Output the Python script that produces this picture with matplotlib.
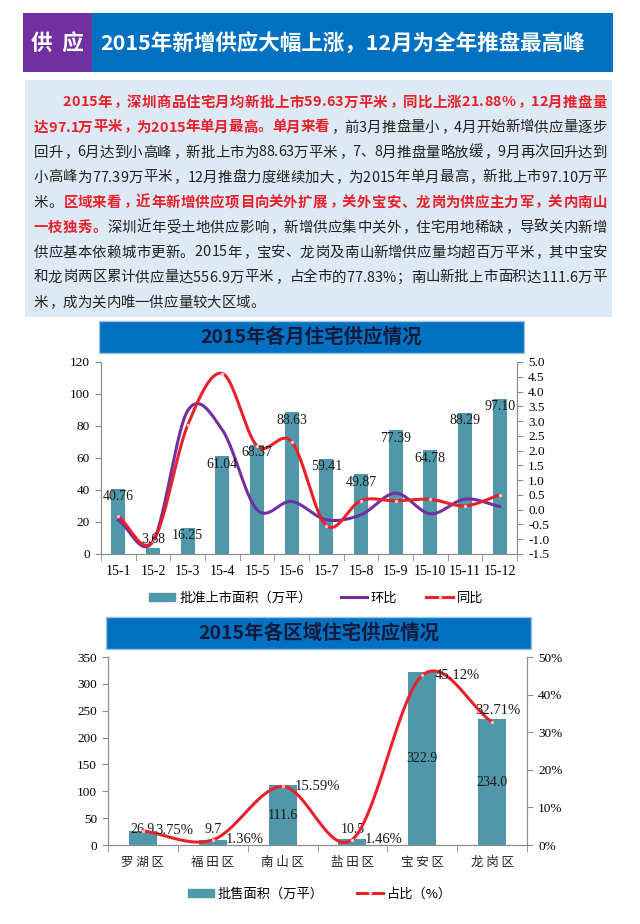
import numpy as np
import matplotlib
matplotlib.use('Agg')
import matplotlib.pyplot as plt
from matplotlib.patches import Rectangle, Patch
from matplotlib.lines import Line2D
from matplotlib import font_manager
from matplotlib.font_manager import FontProperties
from matplotlib.ft2font import FT2Font

plt.rcParams['font.family'] = ['Noto Sans CJK SC', 'DejaVu Sans']
plt.rcParams['axes.unicode_minus'] = False

# chart 1 data
months = ['15-1', '15-2', '15-3', '15-4', '15-5', '15-6',
          '15-7', '15-8', '15-9', '15-10', '15-11', '15-12']
supply = [40.76, 3.68, 16.25, 61.04, 68.37, 88.63, 59.41, 49.87, 77.39, 64.78, 88.29, 97.10]
mom = [-0.36, -1.07, 3.35, 2.70, 0.00, 0.28, -0.34, -0.17, 0.56, -0.14, 0.36, 0.11]
yoy = [-0.23, -1.07, 2.86, 4.61, 2.16, 2.30, -0.54, 0.31, 0.30, 0.35, 0.13, 0.50]

# chart 2 data
districts = ['罗湖区', '福田区', '南山区', '盐田区', '宝安区', '龙岗区']
district_area = [26.9, 9.7, 111.6, 10.5, 322.9, 234.0]
district_share = [3.75, 1.36, 15.59, 1.46, 45.12, 32.71]

RED = '#e8212b'
BAR = '#4f97a9'
SERIF = 'Liberation Serif'

body = [
    [('2015年，深圳商品住宅月均新批上市59.63万平米，同比上涨21.88%，12月推盘量', 'r')],
    [('达97.1万平米，为2015年单月最高。单月来看', 'r'), ('，前3月推盘量小，4月开始新增供应量逐步', 'k')],
    [('回升，6月达到小高峰，新批上市为88.63万平米，7、8月推盘量略放缓，9月再次回升达到', 'k')],
    [('小高峰为77.39万平米，12月推盘力度继续加大，为2015年单月最高，新批上市97.10万平', 'k')],
    [('米。', 'k'), ('区域来看，近年新增供应项目向关外扩展，关外宝安、龙岗为供应主力军，关内南山', 'r')],
    [('一枝独秀。', 'r'), ('深圳近年受土地供应影响，新增供应集中关外，住宅用地稀缺，导致关内新增', 'k')],
    [('供应基本依赖城市更新。2015年，宝安、龙岗及南山新增供应量均超百万平米，其中宝安', 'k')],
    [('和龙岗两区累计供应量达556.9万平米，占全市的77.83%；南山新批上市面积达111.6万平', 'k')],
    [('米，成为关内唯一供应量较大区域。', 'k')],
]

W, H = 640, 924
fig = plt.figure(figsize=(6.4, 9.24), dpi=100)


def fx(x):
    return x / W


def fy(y):
    return 1 - y / H


def box(x0, y0, x1, y1, **kw):
    fig.patches.append(Rectangle((fx(x0), fy(y1)), fx(x1) - fx(x0), fy(y0) - fy(y1),
                                 transform=fig.transFigure, **kw))


# header
box(23, 13, 92, 72, facecolor='#7030a0', edgecolor='none')
box(92, 13, 613, 72, facecolor='#0070c0', edgecolor='none')
fig.text(fx(57), fy(43), '供  应', color='white', fontsize=15.5, weight='bold', ha='center', va='center')
fig.text(fx(100), fy(43), '2015年新增供应大幅上涨，12月为全年推盘最高峰', color='white',
         fontsize=15.5, weight='bold', ha='left', va='center')

# body text, justified char by char
box(25, 80, 612, 317, facecolor='#dde9f5', edgecolor='none')
BODY_FS = 10.4
fonts = {}
for wgt in ['normal', 'bold']:
    f = FT2Font(font_manager.findfont(FontProperties(family='Noto Sans CJK SC', weight=wgt)))
    f.set_size(BODY_FS, 100)
    fonts[wgt] = f


def char_metrics(ch, wgt):
    g = fonts[wgt].load_char(ord(ch))
    return g.linearHoriAdvance / 65536, g.horiBearingX / 64


for i, segs in enumerate(body):
    chars = []
    for s, c in segs:
        for ch in s:
            wgt = 'bold' if c == 'r' else 'normal'
            adv, bear = char_metrics(ch, wgt)
            chars.append((ch, RED if c == 'r' else '#222222', wgt, adv, bear))
    x0 = 62 if i == 0 else 33
    x1 = 606
    total = sum(c[3] for c in chars)
    gap = 0
    if i < len(body) - 1 and len(chars) > 1:
        gap = (x1 - x0 - total) / (len(chars) - 1)
    x = x0
    yb = 106.5 + 25 * i
    for ch, col, wgt, adv, bear in chars:
        fig.text(fx(x + bear), fy(yb), ch, fontsize=BODY_FS, color=col, weight=wgt,
                 ha='left', va='baseline')
        x += adv + gap


def smooth(xs, ys, n=24):
    # catmull-rom, like the smoothed lines of the original
    x = np.asarray(xs, float)
    y = np.asarray(ys, float)
    px = np.concatenate([[2 * x[0] - x[1]], x, [2 * x[-1] - x[-2]]])
    py = np.concatenate([[2 * y[0] - y[1]], y, [2 * y[-1] - y[-2]]])
    t = np.linspace(0, 1, n)
    ox, oy = [], []
    for k in range(1, len(px) - 2):
        for p, o in ((px, ox), (py, oy)):
            p0, p1, p2, p3 = p[k - 1], p[k], p[k + 1], p[k + 2]
            seg = 0.5 * ((2 * p1) + (-p0 + p2) * t + (2 * p0 - 5 * p1 + 4 * p2 - p3) * t ** 2
                         + (-p0 + 3 * p1 - 3 * p2 + p3) * t ** 3)
            o.extend(seg if k == 1 else seg[1:])
    return np.array(ox), np.array(oy)


def banner(x0, y0, x1, y1, title):
    box(x0, y0, x1, y1, facecolor='#0070c0', edgecolor='#9cc3e5', linewidth=1)
    fig.text(fx((x0 + x1) / 2), fy((y0 + y1) / 2), title, color='#141b3c', fontsize=14,
             weight='bold', ha='center', va='center')


def style_axes(ax, axr, n):
    for a in (ax, axr):
        a.spines['top'].set_visible(False)
        for s in ('left', 'right', 'bottom'):
            a.spines[s].set_color('#8c8c8c')
    ax.set_xlim(-0.5, n - 0.5)
    ax.set_xticks(np.arange(n))
    ax.set_xticks(np.arange(-0.5, n), minor=True)
    ax.tick_params(axis='x', which='major', length=0, pad=8)
    ax.tick_params(axis='x', which='minor', length=5, color='#8c8c8c', direction='out')
    ax.tick_params(axis='y', length=4, color='#8c8c8c', labelsize=9.5, pad=4)
    axr.tick_params(axis='y', length=4, color='#8c8c8c', labelsize=9.5, pad=4)
    for lab in ax.get_yticklabels() + axr.get_yticklabels():
        lab.set_family(SERIF)


# chart 1
banner(99, 321, 524, 353, '2015年各月住宅供应情况')
ax1 = fig.add_axes([fx(101), fy(554), fx(517) - fx(101), fy(362) - fy(554)])
xi = np.arange(len(months))
ax1.bar(xi, supply, width=0.4, color=BAR, zorder=2)
ax1.set_ylim(0, 120)
ax1.set_yticks(np.arange(0, 121, 20))
ax1r = ax1.twinx()
ax1r.set_ylim(-1.5, 5.0)
ax1r.set_yticks(np.arange(-1.5, 5.01, 0.5))
ax1r.set_yticklabels(['%.1f' % v for v in np.arange(-1.5, 5.01, 0.5)])
sx, sy = smooth(xi, mom)
ax1r.plot(sx, sy, color='#7030a0', lw=2.2)
sx, sy = smooth(xi, yoy)
ax1r.plot(sx, sy, color=RED, lw=2.2)
ax1r.plot(xi, yoy, 'o', ms=2.5, mfc='#f3c4c4', mec='none')
ax1.set_xticklabels(months, family=SERIF, fontsize=10)
style_axes(ax1, ax1r, len(months))
for x, v in zip(xi, supply):
    ax1r.annotate('%.2f' % v, (x, (max(v, 14) / 120) * 6.5 - 1.5), xytext=(0, -1),
                  textcoords='offset points', ha='center', va='top', family=SERIF,
                  fontsize=10, color='#1a1a1a')
fig.legend(handles=[Patch(color=BAR, label='批准上市面积（万平）'),
                    Line2D([], [], color='#7030a0', lw=2.2, label='环比'),
                    Line2D([], [], color=RED, lw=2.2, marker='o', ms=2.5, mfc='#f3c4c4',
                           mec='none', label='同比')],
           loc='center', bbox_to_anchor=(fx(316), fy(598)), ncol=3, frameon=False,
           fontsize=9.5, handlelength=2.0, handleheight=0.6, columnspacing=2.2,
           handletextpad=0.3)

# chart 2
banner(106, 617, 531, 649, '2015年各区域住宅供应情况')
ax2 = fig.add_axes([fx(108), fy(845), fx(527) - fx(108), fy(657) - fy(845)])
xd = np.arange(len(districts))
ax2.bar(xd, district_area, width=0.4, color=BAR, zorder=2)
ax2.set_ylim(0, 350)
ax2.set_yticks(np.arange(0, 351, 50))
ax2r = ax2.twinx()
ax2r.set_ylim(0, 50)
ax2r.set_yticks(np.arange(0, 51, 10))
ax2r.set_yticklabels(['%d%%' % v for v in range(0, 51, 10)])
sx, sy = smooth(xd, district_share)
ax2r.plot(sx, sy, color=RED, lw=2.2)
ax2r.plot(xd, district_share, 'o', ms=2.5, mfc='#f3c4c4', mec='none')
ax2.set_xticklabels([' '.join(d) for d in districts], fontsize=9, color='#222222')
style_axes(ax2, ax2r, len(districts))
for x, v in zip(xd, district_area):
    ax2.text(x, max(v / 2, 28), '%.1f' % v, ha='center', va='center', family=SERIF,
             fontsize=10, color='#1a1a1a', zorder=3)
for i, (x, v) in enumerate(zip(xd, district_share)):
    if i == len(xd) - 1:
        ax2r.annotate('%.2f%%' % v, (x, v), xytext=(4, 8), textcoords='offset points',
                      ha='center', va='center', family=SERIF, fontsize=10.5, color='#1a1a1a')
    else:
        ax2r.annotate('%.2f%%' % v, (x, v), xytext=(9, 0), textcoords='offset points',
                      ha='left', va='center', family=SERIF, fontsize=10.5, color='#1a1a1a')
fig.legend(handles=[Patch(color=BAR, label='批售面积（万平）'),
                    Line2D([], [], color=RED, lw=2.2, marker='o', ms=2.5, mfc='#f3c4c4',
                           mec='none', label='占比（%）')],
           loc='center', bbox_to_anchor=(fx(320), fy(894)), ncol=2, frameon=False,
           fontsize=9.5, handlelength=2.0, handleheight=0.6, columnspacing=2.5,
           handletextpad=0.3)

fig.savefig('out.png', dpi=100, facecolor='white')
